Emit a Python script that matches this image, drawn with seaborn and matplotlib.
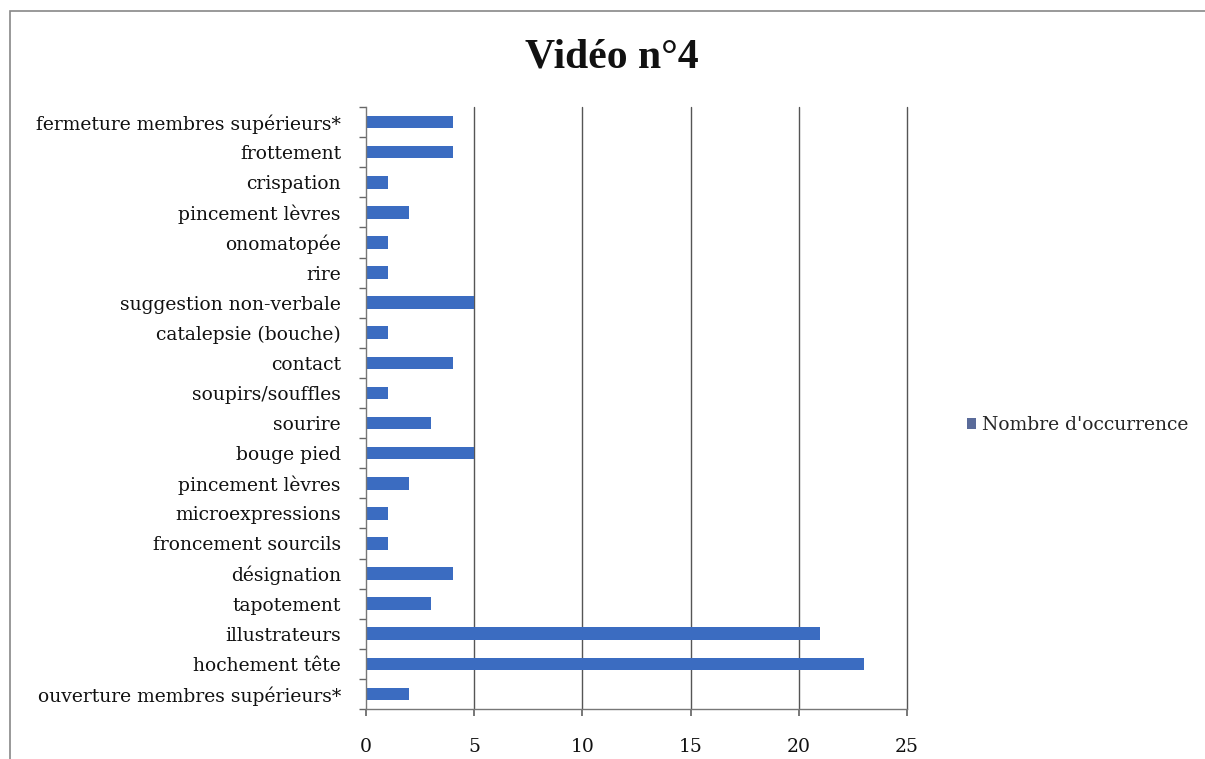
import numpy as np
import pandas as pd
import matplotlib
matplotlib.use("Agg")
import matplotlib.pyplot as plt
import seaborn as sns
from matplotlib.patches import Rectangle, Patch

categories = [
    "fermeture membres supérieurs*", "frottement", "crispation", "pincement lèvres",
    "onomatopée", "rire", "suggestion non-verbale", "catalepsie (bouche)", "contact",
    "soupirs/souffles", "sourire", "bouge pied", "pincement lèvres ", "microexpressions",
    "froncement sourcils", "désignation", "tapotement", "illustrateurs", "hochement tête",
    "ouverture membres supérieurs*",
]
values = [4, 4, 1, 2, 1, 1, 5, 1, 4, 1, 3, 5, 2, 1, 1, 4, 3, 21, 23, 2]
series_name = "Nombre d'occurrence"
title = "Vidéo n°4"
xticks = [0, 5, 10, 15, 20, 25]

df = pd.DataFrame({"cat": categories, "val": values})

sns.set_theme(style="white")
plt.rcParams["font.family"] = ["DejaVu Serif"]

fig = plt.figure(figsize=(12.05, 7.59), dpi=100)
ax = fig.add_axes([366 / 1205, 1 - 709 / 759, (907 - 366) / 1205, (709 - 107) / 759])

bar_color = "#3B6CC1"
sns.barplot(data=df, y="cat", x="val", orient="h", color=bar_color, width=0.42,
            saturation=1, linewidth=0, ax=ax, order=categories)

ax.set_xlim(0, 25)
ax.set_ylim(len(categories) - 0.5, -0.5)
ax.set_xticks(xticks)
ax.set_xticklabels([str(t) for t in xticks], fontsize=13.5, color="#111111")
ax.set_yticks(range(len(categories)))
ax.set_yticklabels([c.strip() for c in categories], fontsize=13.5, color="#111111")
ax.set_yticks(np.arange(-0.5, len(categories), 1), minor=True)
ax.tick_params(axis="y", which="major", length=0, pad=18)
ax.tick_params(axis="y", which="minor", length=5, direction="out", color="#666666", width=1, left=True)
ax.tick_params(axis="x", which="major", length=5, direction="out", color="#666666", bottom=True, pad=16)
ax.set_xlabel("")
ax.set_ylabel("")
for x in xticks[1:]:
    ax.axvline(x, color="#555555", linewidth=1.0, zorder=0, clip_on=False)
for s in ["top", "right"]:
    ax.spines[s].set_visible(False)
for s in ["left", "bottom"]:
    ax.spines[s].set_color("#777777")
    ax.spines[s].set_linewidth(1.0)

fig.text(612 / 1205, 1 - 58 / 759, title, ha="center", va="center",
         fontsize=30, fontweight="bold", family="Liberation Serif", color="#111111")

handle = Patch(facecolor="#5A6B9A", edgecolor="none")
fig.legend([handle], [series_name], loc="center left",
           bbox_to_anchor=(950 / 1205, 1 - 425 / 759), frameon=False,
           fontsize=13.5, handlelength=0.5, handleheight=0.5, handletextpad=0.3)

fig.patches.append(Rectangle((10 / 1205, -0.1), 1.2, 1 - 11 / 759 + 0.1,
                             transform=fig.transFigure, fill=False,
                             edgecolor="#888888", linewidth=1.2))

fig.savefig("out.png", dpi=100)
